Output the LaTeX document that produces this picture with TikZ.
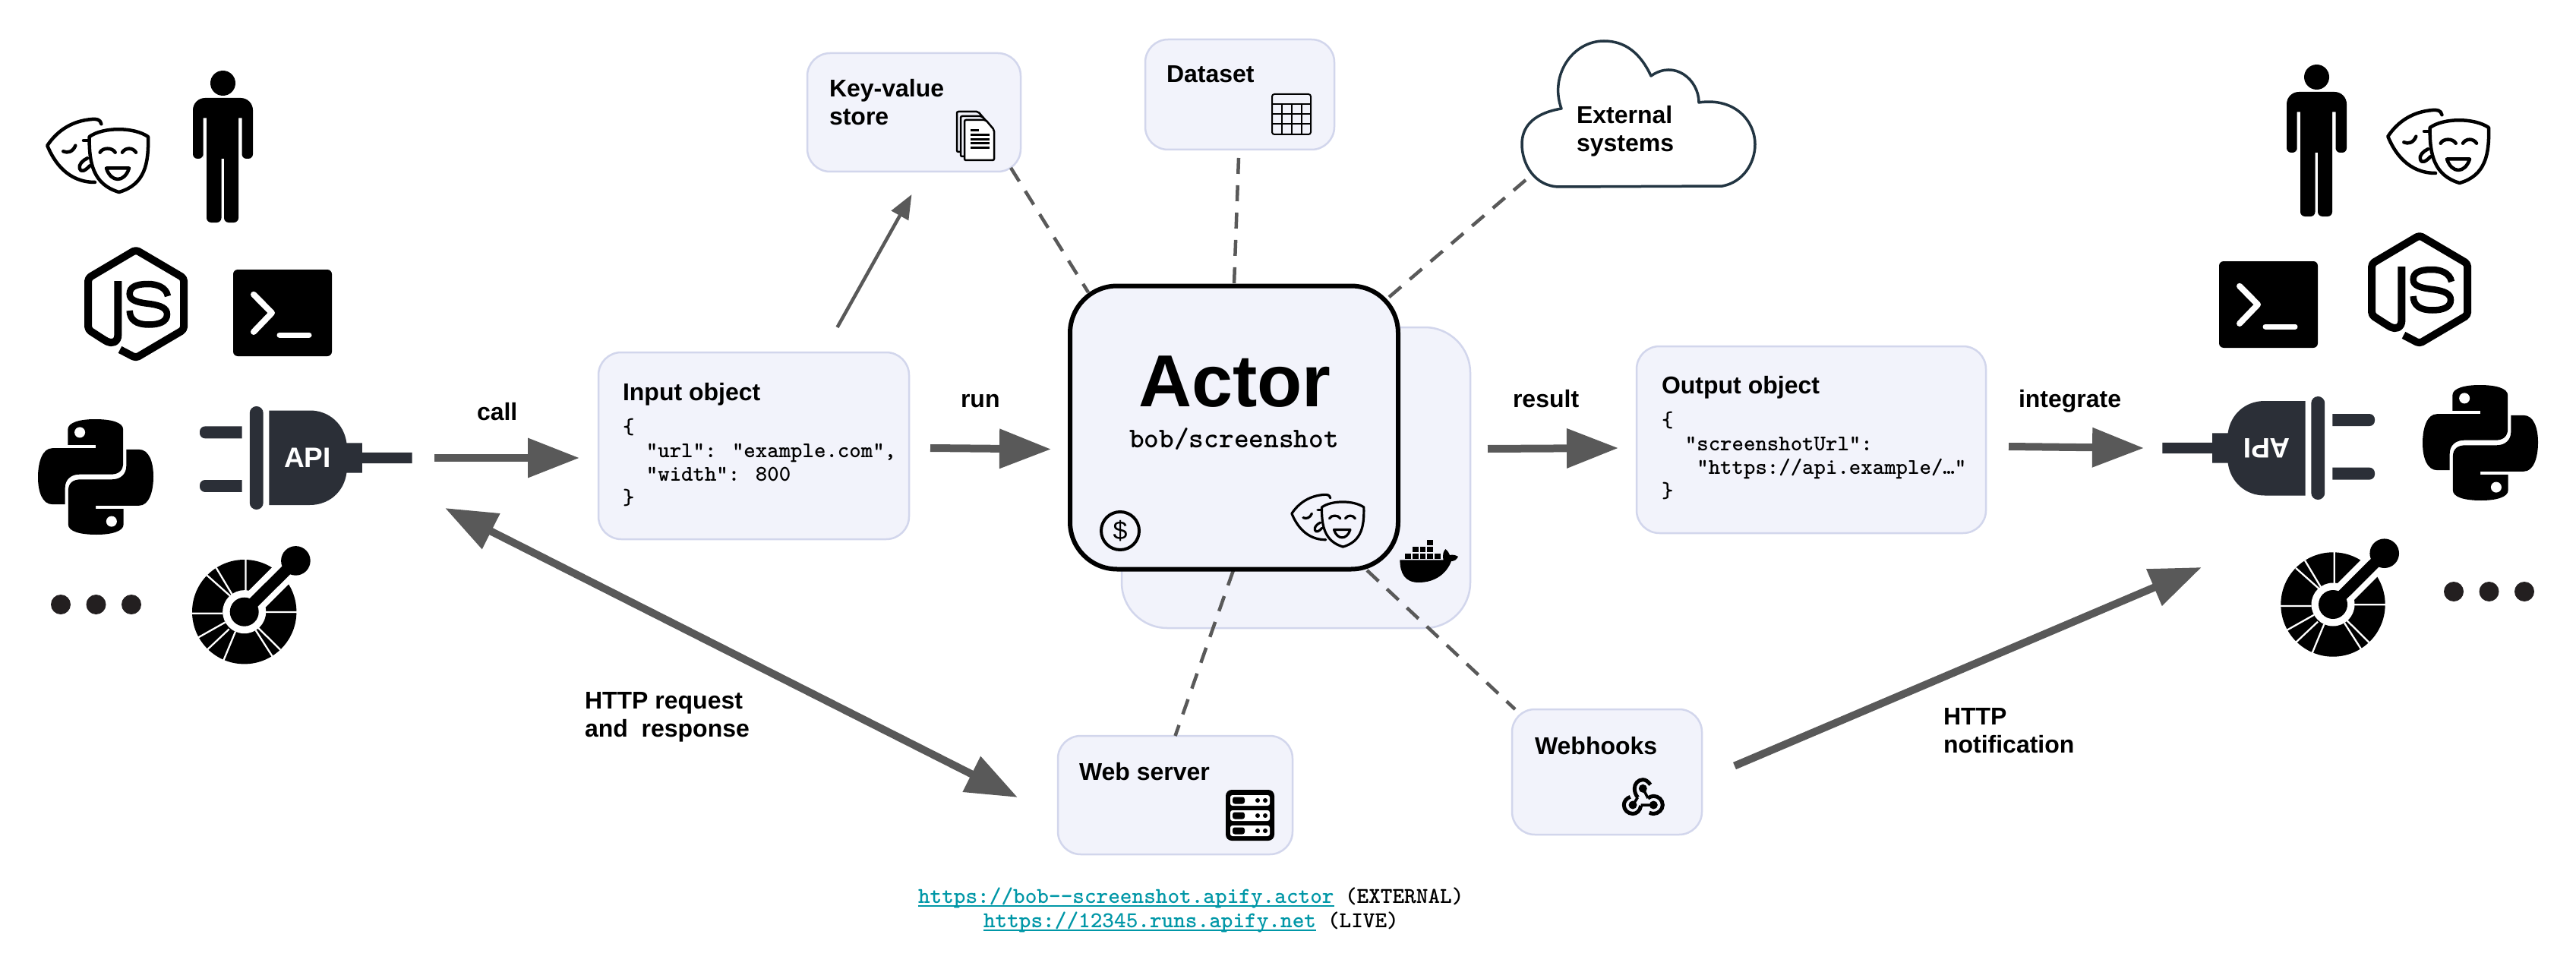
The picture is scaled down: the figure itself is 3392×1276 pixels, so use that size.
\documentclass[tikz,border=0pt]{standalone}
\usepackage{fontspec}
\setmainfont{Liberation Sans}
\usetikzlibrary{arrows.meta,calc}
\definecolor{boxfill}{HTML}{F2F3FB}
\definecolor{boxline}{HTML}{D2D6EC}
\definecolor{arrowgray}{HTML}{595959}
\definecolor{plugcol}{HTML}{2B2F37}
\definecolor{dotcol}{HTML}{231F20}
\definecolor{cloudline}{HTML}{223542}
\definecolor{linkteal}{HTML}{0097A7}
\newcommand\urltext[1]{\setbox0\hbox{#1}\rlap{\copy0}\rule[-5pt]{\wd0}{2.5pt}}
\tikzset{
  box/.style={draw=boxline,fill=boxfill,line width=2.5pt,rounded corners=30pt,inner sep=0pt,outer sep=0pt},
  lbl/.style={font=\fontsize{32}{37}\selectfont\bfseries,anchor=base west,inner sep=0pt,outer sep=0pt,align=left},
  code/.style={font=\ttfamily\bfseries\fontsize{29.4}{31}\selectfont,anchor=base west,inner sep=0pt,outer sep=0pt,align=left},
  urlt/.style={font=\ttfamily\bfseries\fontsize{29.8}{31}\selectfont,anchor=base west,inner sep=0pt,outer sep=0pt},
  arr/.style={draw=arrowgray,line width=10pt,-{Triangle[length=68pt,width=50pt]}},
  biarr/.style={draw=arrowgray,line width=10pt,{Triangle[length=68pt,width=50pt]}-{Triangle[length=68pt,width=50pt]}},
  thinarr/.style={draw=arrowgray,line width=4.5pt,-{Triangle[length=32pt,width=25pt]}},
  dashline/.style={draw=arrowgray,line width=4.5pt,dash pattern=on 21pt off 15pt},
  mk/.style={draw=black,line width=4.5pt,line cap=round,line join=round},
  mkfill/.style={fill=white},
  personicon/.pic={
    \fill (39.5,16.5) circle (16.5pt);
    \fill (13.5,62.5) -- (13.5,115) [rounded corners=6pt] -- (13.5,116) -- (0,116) [rounded corners=16pt] -- (0,36) -- (79,36) [rounded corners=6pt] -- (79,116) -- (64.5,116) [sharp corners] -- (64.5,62.5) -- (60,62.5)
      [rounded corners=6pt] -- (60,200) -- (41,200) [sharp corners] -- (41,116) -- (37.5,116) [rounded corners=6pt] -- (37.5,200) -- (18,200) [sharp corners] -- (18,62.5) -- cycle;
  },
  masksicon/.pic={
    \draw[mk] (72.4,8.2) .. controls (71,2) and (66,1.5) .. (60,2) .. controls (35,4) and (15,16) .. (1.3,36.7) .. controls (10,58) and (28,85) .. (64,85);
    \draw[mk] (22.3,44.3) .. controls (28,47) and (35,45) .. (38.3,36.7);
    \draw[mk] (49,30) -- (55,30);
    \draw[mk] (54,53.3) .. controls (48,56) and (42,62) .. (44,67) .. controls (46,73) and (52,69) .. (57.3,63.3);
    \draw[mk,mkfill] (56.7,25) .. controls (75,12) and (115,12) .. (134,25) .. controls (135,60) and (130,88) .. (95.7,98) .. controls (62,88) and (56,60) .. (56.7,25) -- cycle;
    \draw[mk] (70.7,45.7) .. controls (74,39) and (87,39) .. (90.7,45.7);
    \draw[mk] (100,45.7) .. controls (104,39) and (114,39) .. (118,45.7);
    \draw[mk] (79,66.5) -- (109,66.5) .. controls (106,76) and (100,81) .. (94,81) .. controls (88,81) and (82,76) .. (79,66.5) -- cycle;
  },
  jsicon/.pic={
    \draw[black,line width=10pt,line join=round,rounded corners=4pt] (47,137.4) -- (67.9,148.3) -- (131.1,111) -- (131.1,43.2) -- (67.9,6) -- (5.1,43.2) -- (5.1,111) -- (26.5,124.8) .. controls (36,130) and (44.4,128) .. (44.4,113.8) -- (44.4,47);
    \draw[black,line width=8.5pt] (110,67) .. controls (108,55) and (95,51) .. (84,51) .. controls (68,51) and (59.7,55) .. (59.7,64) .. controls (59.7,72) and (68,75) .. (85,77) .. controls (101,79) and (109,83) .. (109,91) .. controls (109,101) and (98,104.5) .. (85,104.5) .. controls (68,104.5) and (60,98) .. (59.7,86);
  },
  termicon/.pic={
    \fill[rounded corners=6pt] (0,0) rectangle (130,114);
    \draw[white,line width=8pt,line cap=round,line join=round] (27,32.8) -- (51,57) -- (27,82);
    \draw[white,line width=7pt,line cap=round] (61,86) -- (100,86);
  },
  pysnake/.pic={
    \fill (-36.7,-42.1) -- (-36.7,-62.4) .. controls (-36.7,-72) and (-20,-76) .. (-1,-76) .. controls (20,-76) and (36.2,-72) .. (36.2,-62.4) -- (36.2,-18.6) .. controls (36.2,-8) and (30,-3.3) .. (19.4,-3.3) -- (-21.4,-3.3) .. controls (-33,-3.3) and (-40.3,4) .. (-40.3,14.2) -- (-40.3,36.1) -- (-57.1,36.1) .. controls (-70,36.1) and (-76,20) .. (-76,0.5) .. controls (-76,-20) and (-70,-37.8) .. (-57.1,-37.8) -- (0,-37.8) -- (0,-42.1) -- cycle;
    \fill[white] (-20.9,-58.6) circle (7pt);
  },
  pyicon/.pic={
    \pic {pysnake};
    \pic[rotate=180] {pysnake};
  },
  plugicon/.pic={
    \fill[plugcol] (-84.4,-41.6) [rounded corners=7pt] -- (-140,-41.6) -- (-140,-25.7) [sharp corners] -- (-84.4,-25.7) -- cycle;
    \fill[plugcol] (-84.4,29) [rounded corners=7pt] -- (-140,29) -- (-140,44.9) [sharp corners] -- (-84.4,44.9) -- cycle;
    \fill[plugcol,rounded corners=8.9pt] (-74.2,-68) rectangle (-56.3,68);
    \fill[plugcol] (-48.7,-62.5) -- (5,-62.5) .. controls (30,-62.5) and (50,-45) .. (53.4,-19.7) -- (73.8,-19.7) -- (73.8,-7.1) -- (139.6,-7.1) -- (139.6,7.1) -- (73.8,7.1) -- (73.8,19.7) -- (53.4,19.7) .. controls (50,45) and (30,62) .. (5,62) -- (-48.7,62) -- cycle;
    \node[white,font=\fontsize{37}{37}\selectfont\bfseries,inner sep=0pt] (-api) at (2,0) {API};
  },
  dotsicon/.pic={
    \fill[dotcol] (-46.5,0) circle (13pt) (0,0) circle (13pt) (46.5,0) circle (13pt);
  },
  oaicon/.pic={
    \fill (0,0) circle (68.7pt);
    \fill[white] (0,0) circle (28.5pt);
    \draw[white,line width=2.3pt]
      (1.7,-70) -- (1.7,-27.3)
      (-37,-58) -- (-15.7,-22.3)
      (-49,-48) -- (-18.3,-20.7)
      (-70,2) -- (-28.3,2)
      (-62.5,34.8) -- (-25,13.7)
      (-49,50) -- (-20,22.7)
      (-27.8,65) -- (-11.7,26)
      (37.2,59) -- (15,24.3)
      (47.5,50) -- (18.3,21)
      (26.7,.3) -- (70,.3);
    \draw[white,line width=31pt] (14,-14) -- (74,-74);
    \fill (0,0) circle (19pt);
    \draw[black,line width=15pt] (0,0) -- (67.7,-67.3);
    \fill (67.7,-67.3) circle (19.3pt);
  },
}
\begin{document}
\begin{tikzpicture}[x=1pt,y=-1pt]
\useasboundingbox (0,0) rectangle (3392,1276);
\fill[white] (0,0) rectangle (3392,1276);

% boxes
\node[box,minimum width=281pt,minimum height=156pt] (kv) at (1203.5,148) {};
\node[box,minimum width=249pt,minimum height=145pt] (ds) at (1632.5,124.5) {};
\node[box,minimum width=409pt,minimum height=246pt] (input) at (992.5,587) {};
\node[box,minimum width=460pt,minimum height=246pt] (output) at (2385,579) {};
\node[box,minimum width=309pt,minimum height=156pt] (web) at (1547.5,1047) {};
\node[box,minimum width=250pt,minimum height=165pt] (hooks) at (2116,1016.5) {};
\node[box,rounded corners=60pt,minimum width=459pt,minimum height=396pt] (back) at (1706.5,629) {};

% cloud
\coordinate (cloud) at (2157,150);
\draw[cloudline,fill=white,line width=3.5pt,line join=round] (2054,246) -- (2268,245) .. controls (2295,240) and (2311,215) .. (2311,190) .. controls (2311,160) and (2285,128) .. (2237,135) .. controls (2237,105) and (2205,78) .. (2174,100) .. controls (2160,70) and (2140,54) .. (2112,54) .. controls (2070,54) and (2040,100) .. (2056,143) .. controls (2015,150) and (2004,170) .. (2004,190) .. controls (2004,215) and (2020,246) .. (2054,246) -- cycle;

% dashed links
\coordinate (actorC) at (1625,563);
\draw[dashline] ($(kv.south east)+(-13,-5)$) -- ($(actorC)+(-192,-178)$);
\draw[dashline] ($(ds.south)+(-1.5,11)$) -- ($(actorC)+(0,-188)$);
\draw[dashline] ($(cloud)+(-148,87)$) -- ($(actorC)+(202,-170)$);
\draw[dashline] ($(actorC)+(-1,188)$) -- ($(web.north)+(0,0)$);
\draw[dashline] ($(actorC)+(175,188)$) -- ($(hooks.north west)+(4,0)$);

% actor
\node[box,draw=black,line width=6pt,rounded corners=62pt,minimum width=432pt,minimum height=373pt] (actor) at (actorC) {};
\node[inner sep=0pt,font=\fontsize{97}{97}\selectfont\bfseries,anchor=base] (actorT) at (1626,535) {Actor};
\node[inner sep=0pt,font=\ttfamily\bfseries\fontsize{37.5}{37.5}\selectfont,anchor=base] (actorS) at (1625,589) {bob/screenshot};

% labels in boxes
\node[lbl] (kvT) at (1092,165) {Key-value\\store};
\node[lbl] (dsT) at (1536,109) {Dataset};
\node[lbl] (clT) at (2076,200) {External\\systems};
\node[lbl] (inT) at (820,527) {Input object};
\node[lbl] (outT) at (2188,518) {Output object};
\node[lbl] (webT) at (1421,1027) {Web server};
\node[lbl] (hoT) at (2021,993) {Webhooks};
\node[code] (inJ) at (820,664) {\{\\\ \ "url": "example.com",\\\ \ "width": 800\\\}};
\node[code] (outJ) at (2188,655) {\{\\\ \ "screenshotUrl":\\\ \ \ "https://api.example/…"\\\}};

% labels on arrows
\node[lbl] (callT) at (628,553) {call};
\node[lbl] (runT) at (1265,536) {run};
\node[lbl] (resT) at (1992,536) {result};
\node[lbl] (intT) at (2658,536) {integrate};
\node[lbl] (httpT) at (770,970) {HTTP request\\and\ \ response};
\node[lbl] (notT) at (2559,991) {HTTP\\notification};

% urls
\node[urlt,text=linkteal] (u1) at (1209,1189) {\urltext{https://bob-{}-screenshot.apify.actor}};
\node[urlt] (u1x) at (1771,1189) {(EXTERNAL)};
\node[urlt,text=linkteal] (u2) at (1295,1221) {\urltext{https://12345.runs.apify.net}};
\node[urlt] (u2x) at (1748,1221) {(LIVE)};

% icons, left
\pic (pL) at (254,93) {personicon};
\pic (mL) at (61,155) {masksicon};
\pic (jL) at (111,323) {jsicon};
\pic (tL) at (307,355) {termicon};
\pic (yL) at (126,628) {pyicon};
\coordinate (plugL) at (403,603);
\pic (uL) at (plugL) {plugicon};
\pic (dL) at (126.5,796) {dotsicon};
\pic (oL) at (321.7,805.7) {oaicon};
% icons, right
\pic (pR) at (3011,85) {personicon};
\pic (mR) at (3143,143) {masksicon};
\pic (jR) at (3118,304) {jsicon};
\pic (tR) at (2922,344) {termicon};
\pic (yR) at (3266,583) {pyicon};
\coordinate (plugR) at (2987,590);
\pic[rotate=180,transform shape] (uR) at (plugR) {plugicon};
\pic (dR) at (3277.5,779) {dotsicon};
\coordinate (oaR) at (3072,796);
\pic (oR) at (oaR) {oaicon};

% actor icons
\pic[scale=.715,mk/.append style={line width=3.2pt},mkfill/.style={fill=boxfill}] (mA) at (1700,650) {masksicon};
\draw[black,line width=4pt] (1475,699) circle (25pt);
\node[inner sep=0pt,font=\fontsize{34}{34}\selectfont] (dollar) at (1475,699) {\$};
% docker
\fill (1879,711) rectangle +(7.5,6.8);
\foreach \x in {1860,1869.6,1879.3}{\fill (\x,720) rectangle +(7.5,6.8);}
\foreach \x in {1850,1860,1869.6,1879.3,1889}{\fill (\x,729) rectangle +(7.5,6.8);}
\fill (1843.4,737.3) -- (1900.6,737.3) .. controls (1899,730) and (1901,725) .. (1903.5,723) .. controls (1906,725) and (1908,728) .. (1909,731) .. controls (1913,730) and (1917,731) .. (1920,733) .. controls (1918,737) and (1915,739) .. (1911,739) .. controls (1905,755) and (1890,767) .. (1868,767) .. controls (1850,767) and (1843.4,755) .. (1843.4,737.3) -- cycle;

% documents
\foreach \dx/\dy in {0/0,5/6}{\draw[black,fill=boxfill,line width=2.5pt,rounded corners=2pt] (1260+\dx,147+\dy) -- (1288+\dx,147+\dy) -- (1299+\dx,160+\dy) -- (1299+\dx,200+\dy) -- (1260+\dx,200+\dy) -- cycle;}
\draw[black,fill=white,line width=2.5pt,rounded corners=2pt] (1270,158) -- (1298,158) -- (1309,171) -- (1309,211) -- (1270,211) -- cycle;
\draw[black,line width=3pt] (1278,172) -- (1289,172) (1278,178) -- (1303,178) (1278,183.5) -- (1303,183.5) (1278,189) -- (1303,189) (1278,195) -- (1303,195);

% table
\draw[black,line width=2pt,rounded corners=3pt] (1675,124) rectangle (1726,177);
\draw[black,line width=2pt] (1675,137) -- (1726,137) (1675,150) -- (1726,150) (1675,163.5) -- (1726,163.5) (1687.5,137) -- (1687.5,177) (1700.5,137) -- (1700.5,177) (1713.5,137) -- (1713.5,177);

% server
\fill[rounded corners=8pt] (1614,1040) rectangle (1678,1107);
\foreach \y in {1054,1074,1094}{
  \fill[white,rounded corners=3pt] (1620,\y-7) rectangle (1672,\y+7);
  \fill[rounded corners=3pt] (1623,\y-4.5) rectangle (1639,\y+4.5);
  \fill (1656,\y) circle (3pt) (1666,\y) circle (3pt);
}

% webhook
\fill (2163.3,1038.3) circle (5.5pt) (2150,1060) circle (5.5pt) (2177.3,1060) circle (5.5pt);
\draw[black,line width=5pt] (2173.3,1033.3) .. controls (2170,1029) and (2167,1026.7) .. (2163.3,1026.7) .. controls (2157,1026.7) and (2152.3,1032) .. (2152.3,1038.3) .. controls (2152.3,1043) and (2154,1047) .. (2156.5,1050);
\draw[black,line width=5pt] (2146.7,1049.3) .. controls (2142,1051) and (2138.3,1055) .. (2138.3,1060) .. controls (2138.3,1066.5) and (2143.5,1071.5) .. (2150,1071.5) .. controls (2155,1071.5) and (2159.5,1068) .. (2160.7,1061);
\draw[black,line width=5pt] (2171.7,1070) .. controls (2173.5,1071) and (2175.5,1071.5) .. (2177.3,1071.5) .. controls (2184,1071.5) and (2189.3,1066) .. (2189.3,1060) .. controls (2189.3,1053.5) and (2184,1048.3) .. (2177.3,1048.3) .. controls (2175,1048.3) and (2172,1049.5) .. (2170,1051);
\draw[black,line width=3.5pt] (2156.5,1050) -- (2150,1060) (2160.7,1060) -- (2177.3,1060) (2170,1051) -- (2163.3,1038.3);

% arrows
\draw[arr] ($(plugL)+(169,0)$) -- ($(input.west)+(-25,16)$);
\draw[arr] ($(input.east)+(28,3)$) -- ($(actor.west)+(-25,28.5)$);
\draw[arr] ($(actor.east)+(118,28)$) -- ($(output.west)+(-24,11)$);
\draw[arr] ($(output.east)+(30,9)$) -- ($(plugR)+(-164,0)$);
\draw[biarr] ($(input.south west)+(-202,-41)$) -- ($(web.south west)+(-53,-75)$);
\draw[arr] ($(hooks.east)+(43,-8)$) -- ($(oaR)+(-173,-49)$);
\draw[thinarr] ($(input.north)+(110,-33)$) -- ($(kv.south)+(-3,30)$);
\end{tikzpicture}
\end{document}
